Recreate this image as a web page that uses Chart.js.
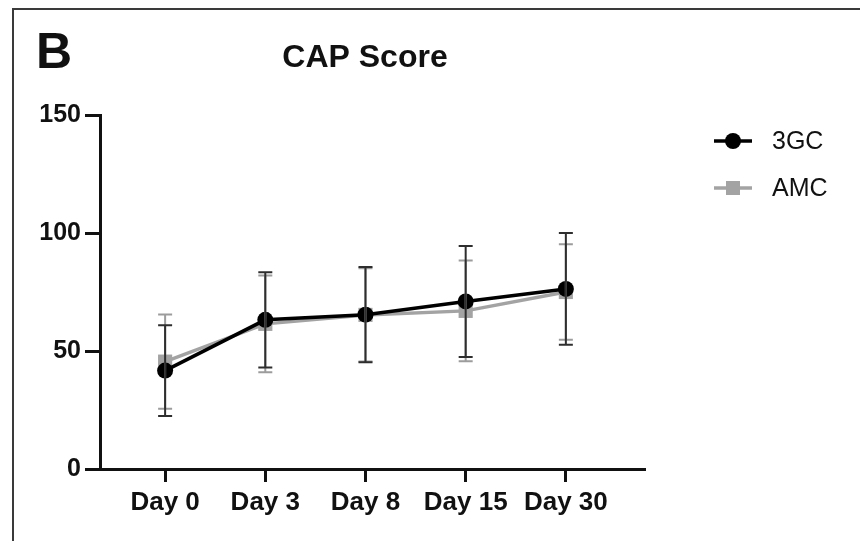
<!DOCTYPE html>
<html>
<head>
<meta charset="utf-8">
<script src="https://cdn.jsdelivr.net/npm/chart.js@4"></script>
<style>
  html, body { margin: 0; padding: 0; background: #fff; }
  #wrap { position: relative; width: 860px; height: 541px; }
  #frame {
    position: absolute; left: 12px; top: 8px; right: 0; bottom: 0;
    border-left: 2px solid #3a3a3a; border-top: 2px solid #3a3a3a;
  }
  canvas { position: absolute; left: 0; top: 0; }
</style>
</head>
<body>
<div id="wrap">
  <div id="frame"></div>
  <canvas id="cap" width="860" height="541"></canvas>
</div>
<script>
const days = ["Day 0", "Day 3", "Day 8", "Day 15", "Day 30"];
const yTicks = [0, 50, 100, 150];

const gc3Mean = [41.7, 63.2, 65.4, 71.0, 76.3];
const gc3Err = [19.2, 20.2, 20.2, 23.5, 23.7];
const amcMean = [45.5, 61.5, 65.3, 67.0, 75.0];
const amcErr = [20.0, 20.5, 19.8, 21.3, 20.2];

const FONT = "'Liberation Sans', Arial, sans-serif";

// error bars, drawn through the chart's own scales
const errorBars = {
  id: "errorBars",
  afterDatasetsDraw(chart) {
    const { ctx, scales } = chart;
    const sets = [
      { mean: amcMean, err: amcErr, color: "#9c9c9c" },
      { mean: gc3Mean, err: gc3Err, color: "#2e2e2e" },
    ];
    ctx.save();
    ctx.lineWidth = 2;
    sets.forEach((s) => {
      ctx.strokeStyle = s.color;
      s.mean.forEach((m, i) => {
        const x = scales.x.getPixelForValue(i);
        const top = scales.y.getPixelForValue(m + s.err[i]);
        const bot = scales.y.getPixelForValue(m - s.err[i]);
        ctx.beginPath();
        ctx.moveTo(x, top);
        ctx.lineTo(x, bot);
        ctx.moveTo(x - 7, top);
        ctx.lineTo(x + 7, top);
        ctx.moveTo(x - 7, bot);
        ctx.lineTo(x + 7, bot);
        ctx.stroke();
      });
    });
    ctx.restore();
  },
};

// panel letter, title and legend
const decorations = {
  id: "decorations",
  afterDraw(chart) {
    const ctx = chart.ctx;
    ctx.save();
    ctx.fillStyle = "#111";
    ctx.textBaseline = "alphabetic";

    ctx.font = "bold 50px " + FONT;
    ctx.textAlign = "left";
    ctx.fillText("B", 36, 68);

    ctx.font = "bold 32px " + FONT;
    ctx.textAlign = "center";
    ctx.fillText("CAP Score", 365, 67);

    // legend
    const items = [
      { label: "3GC", color: "#000", y: 141, style: "circle" },
      { label: "AMC", color: "#a3a3a3", y: 188, style: "rect" },
    ];
    items.forEach((it) => {
      ctx.strokeStyle = it.color;
      ctx.fillStyle = it.color;
      ctx.lineWidth = 3.5;
      ctx.beginPath();
      ctx.moveTo(714, it.y);
      ctx.lineTo(752, it.y);
      ctx.stroke();
      ctx.beginPath();
      if (it.style === "circle") {
        ctx.arc(733, it.y, 8, 0, Math.PI * 2);
      } else {
        ctx.rect(726, it.y - 7, 14, 14);
      }
      ctx.fill();
      ctx.fillStyle = "#111";
      ctx.font = "25px " + FONT;
      ctx.textAlign = "left";
      ctx.textBaseline = "middle";
      ctx.fillText(it.label, 772, it.y + 1);
    });
    ctx.restore();
  },
};

const config = {
  type: "line",
  data: {
    datasets: [
      {
        label: "3GC",
        data: gc3Mean.map((v, i) => ({ x: i, y: v })),
        borderColor: "#000",
        backgroundColor: "#000",
        borderWidth: 3.5,
        pointStyle: "circle",
        pointRadius: 8,
        pointBorderWidth: 0,
        tension: 0,
        order: 1,
      },
      {
        label: "AMC",
        data: amcMean.map((v, i) => ({ x: i, y: v })),
        borderColor: "#a3a3a3",
        backgroundColor: "#a3a3a3",
        borderWidth: 3.5,
        pointStyle: "rect",
        pointRadius: 10,
        pointBorderWidth: 0,
        tension: 0,
        order: 2,
      },
    ],
  },
  options: {
    responsive: false,
    animation: false,
    layout: { padding: { left: 0, right: 216, top: 115, bottom: 0 } },
    plugins: {
      legend: { display: false },
      title: { display: false },
      tooltip: { enabled: false },
    },
    scales: {
      x: {
        type: "linear",
        min: -0.65,
        max: 4.78,
        afterBuildTicks: (scale) => {
          scale.ticks = days.map((d, i) => ({ value: i }));
        },
        afterFit: (scale) => {
          scale.height = 72;
        },
        grid: {
          drawOnChartArea: false,
          drawTicks: true,
          tickLength: 13,
          color: "#111",
          lineWidth: 3,
        },
        border: { display: true, color: "#111", width: 3 },
        ticks: {
          padding: 5,
          maxRotation: 0,
          color: "#111",
          font: { family: FONT, size: 26, weight: "bold" },
          callback: (value) => days[value],
        },
      },
      y: {
        min: 0,
        max: 150,
        afterBuildTicks: (scale) => {
          scale.ticks = yTicks.map((v) => ({ value: v }));
        },
        afterFit: (scale) => {
          scale.width = 100;
        },
        grid: {
          drawOnChartArea: false,
          drawTicks: true,
          tickLength: 15,
          color: "#111",
          lineWidth: 3,
        },
        border: { display: true, color: "#111", width: 3 },
        ticks: {
          padding: 4,
          color: "#111",
          font: { family: FONT, size: 25, weight: "bold" },
        },
      },
    },
  },
  plugins: [errorBars, decorations],
};

new Chart(document.getElementById("cap"), config);
</script>
</body>
</html>
